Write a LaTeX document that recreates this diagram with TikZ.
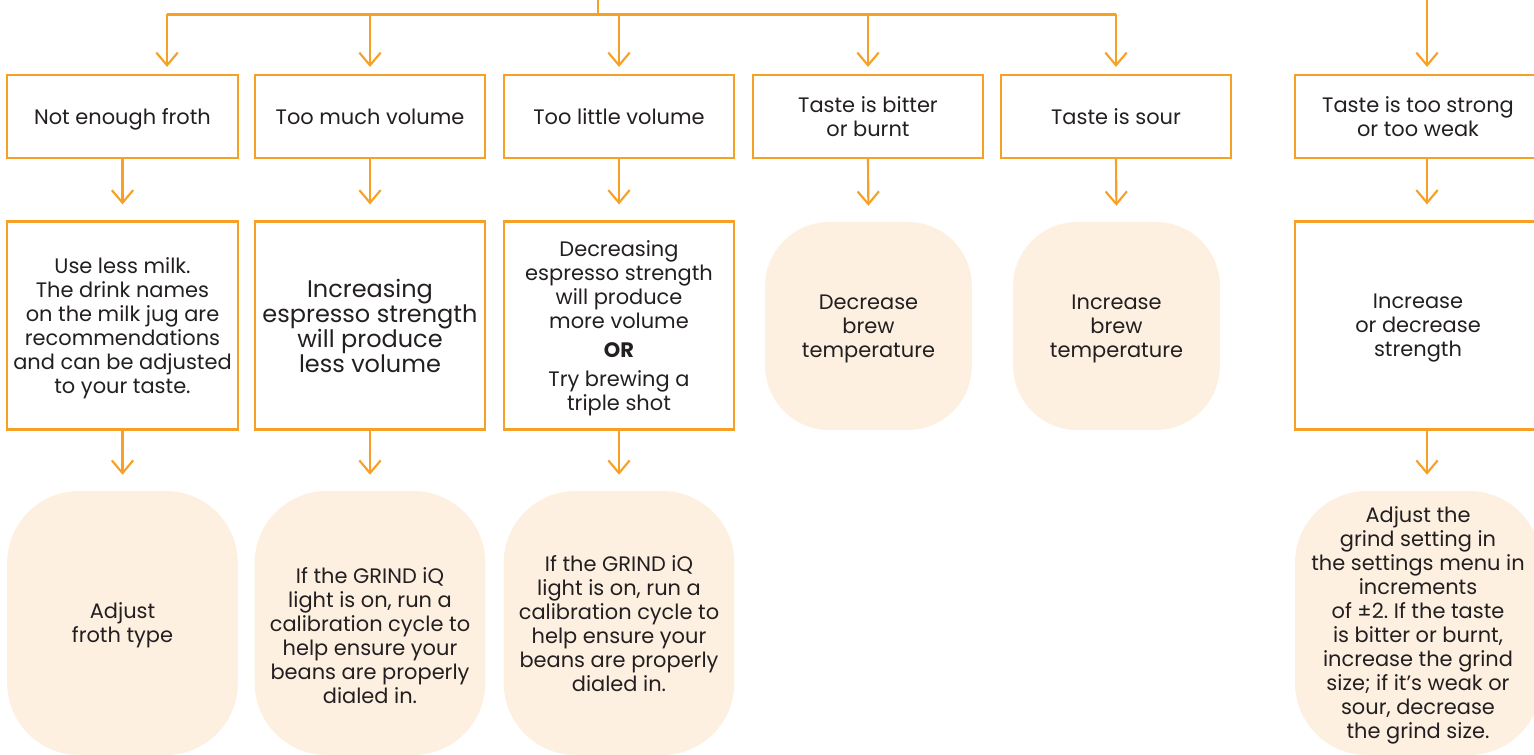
\documentclass[tikz,border=0pt]{standalone}
\usepackage{fontspec}
\setmainfont{Poppins}
\usepackage{tikz}
\usetikzlibrary{arrows.meta}

\definecolor{brewline}{RGB}{246,161,38}
\definecolor{brewfill}{RGB}{253,240,225}
\definecolor{brewtext}{RGB}{35,31,32}

\newcommand{\topstrut}{\rule{0pt}{11.5pt}}
\frenchspacing

\begin{document}
\begin{tikzpicture}[x=0.75pt,y=-0.75pt,
	every node/.style={align=center,text=brewtext,inner sep=0pt,font=\fontsize{15.7}{18}\selectfont,
		execute at begin node=\topstrut,text depth=-1.5pt},
	problem/.style={draw=brewline,line width=1.6pt,minimum width=173pt,minimum height=62.25pt},
	fix/.style={draw=brewline,line width=1.6pt,minimum width=173pt,minimum height=156pt},
	tip/.style={fill=brewfill,rounded corners=48pt,minimum width=155pt,minimum height=156pt},
	bigtip/.style={fill=brewfill,rounded corners=54pt,minimum width=173pt,minimum height=198pt},
	link/.style={draw=brewline,line width=1.6pt},
	arr/.style={link,-{Straight Barb[length=9.5pt,width=16pt]},shorten >=12pt},
	toparr/.style={arr,shorten >=5.25pt}]
	%\draw[help lines] (0,0) grid[step=100] (1534,755);
	\useasboundingbox (0,0) rectangle (1534,755);
	\clip (0,0) rectangle (1534,755);
	% problems
	\node[problem] (p1) at (122.5,116.5) {Not enough froth};
	\node[problem] (p2) at (370,116.5) {Too much volume};
	\node[problem] (p3) at (619,116.5) {Too little volume};
	\node[problem] (p4) at (868,116.5) {Taste is bitter\\or burnt};
	\node[problem] (p5) at (1116,116.5) {Taste is sour};
	\node[problem,minimum width=184.5pt] (p6) at (1418,116.5) {Taste is too strong\\or too weak};
	% first fixes
	\node[fix] (s1) at (122.5,325.5) {Use less milk.\\The drink names\\on the milk jug are\\recommendations\\and can be adjusted\\to your taste.};
	\node[fix,font=\fontsize{18}{18.75}\selectfont] (s2) at (370,325.5) {Increasing\\espresso strength\\will produce\\less volume};
	\node[fix] (s3) at (619,325.5) {Decreasing\\espresso strength\\will produce\\more volume\\[4pt]\textbf{OR}\\[4pt]Try brewing a\\triple shot};
	\node[tip] (s4) at (868.5,326) {Decrease\\brew\\temperature};
	\node[tip] (s5) at (1116.5,326) {Increase\\brew\\temperature};
	\node[fix,minimum width=184.5pt] (s6) at (1418,325.5) {Increase\\or decrease\\strength};
	% second fixes
	\node[bigtip] (f1) at (122.5,623) {Adjust\\froth type};
	\node[bigtip] (f2) at (370,623) {};
	\node (f2text) at ([yshift=-9pt]f2.center) {If the GRIND iQ\\light is on, run a\\calibration cycle to\\help ensure your\\beans are properly\\dialed in.};
	\node[bigtip] (f3) at (619,623) {If the GRIND iQ\\light is on, run a\\calibration cycle to\\help ensure your\\beans are properly\\dialed in.};
	\node[bigtip,minimum width=184.5pt] (f6) at (1418,623) {Adjust the\\grind setting in\\the settings menu in\\increments\\of ±2. If the taste\\is bitter or burnt,\\increase the grind\\size; if it’s weak or\\sour, decrease\\the grind size.};
	% feed lines
	\coordinate (in) at (598,0);
	\coordinate (bus) at (598,14.5);
	\coordinate (b1) at (167,14.5);
	\coordinate (in6) at (1427,0);
	\draw[link] (in) -- (bus);
	\draw[link] (b1) -- (bus -| p5.north);
	\draw[toparr] (b1) -- (b1 |- p1.north);
	\foreach \n in {2,3,4,5}
		\draw[toparr] (bus -| p\n.north) -- (p\n.north);
	\draw[toparr] (in6) -- (in6 |- p6.north);
	% down arrows
	\foreach \n in {1,2,3,4,5}
		\draw[arr] (p\n.south) -- (s\n.north);
	\foreach \n in {1,2,3}
		\draw[arr] (s\n.south) -- (f\n.north);
	\draw[arr] ([xshift=6.75pt]p6.south) -- ([xshift=6.75pt]s6.north);
	\draw[arr] ([xshift=6.75pt]s6.south) -- ([xshift=6.75pt]f6.north);
\end{tikzpicture}
\end{document}
